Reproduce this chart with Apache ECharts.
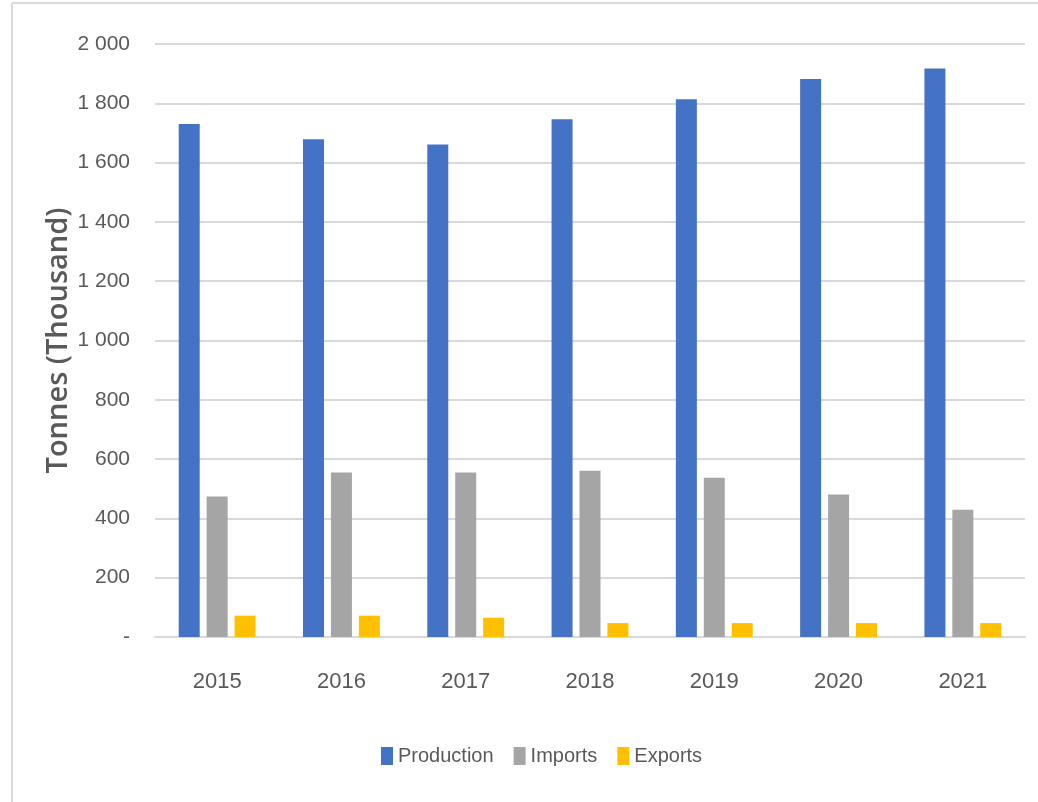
<!DOCTYPE html>
<html>
<head>
<meta charset="utf-8">
<script src="https://cdn.jsdelivr.net/npm/echarts@6/dist/echarts.min.js"></script>
<style>
html,body{margin:0;padding:0;background:#fff;}
#chart{width:1038px;height:802px;}
</style>
</head>
<body>
<div id="chart"></div>
<script>
const years = ['2015','2016','2017','2018','2019','2020','2021'];
const production = [1730, 1679, 1661, 1746, 1814, 1882, 1917];
const imports = [474, 555, 555, 561, 537, 481, 429];
const exports = [72, 72, 65, 47, 47, 47, 47];
const seriesNames = ['Production','Imports','Exports'];
const colors = ['#4472C4','#A5A5A5','#FFC000'];

const labelFont = '"Liberation Sans", Arial, sans-serif';
function fmt(v){
  if (v === 0) return '-';
  const s = String(v);
  return s.length > 3 ? s.slice(0, s.length-3) + ' ' + s.slice(-3) : s;
}

const chart = echarts.init(document.getElementById('chart'), null, {renderer:'canvas'});
const values = [production, imports, exports];
chart.setOption({
  backgroundColor:'#fff',
  animation:false,
  color: colors,
  graphic:[
    {type:'line', shape:{x1:12,y1:3,x2:1038,y2:3}, style:{stroke:'#d9d9d9', lineWidth:2}},
    {type:'line', shape:{x1:12,y1:3,x2:12,y2:802}, style:{stroke:'#d9d9d9', lineWidth:2}}
  ],
  grid:{left:155, right:13, top:44, bottom:165, containLabel:false},
  legend:{
    data: seriesNames,
    top: 741,
    left: 376,
    itemWidth: 12,
    itemHeight: 18,
    itemGap: 20,
    icon: 'rect',
    textStyle:{fontFamily:labelFont, fontSize:20, color:'#595959'}
  },
  xAxis:{
    type:'category',
    data: years,
    axisLine:{lineStyle:{color:'#d9d9d9', width:2}},
    axisTick:{show:false},
    axisLabel:{fontFamily:labelFont, fontSize:22, color:'#595959', margin:34}
  },
  yAxis:{
    type:'value',
    min:0, max:2000, interval:200,
    name:'Tonnes (Thousand)',
    nameLocation:'middle',
    nameGap:82,
    nameMoveOverlap:false,
    nameTextStyle:{fontFamily:'"Open Sans", "DejaVu Sans", sans-serif', fontSize:29, fontWeight:600, color:'#595959'},
    axisLine:{show:false},
    axisTick:{show:false},
    splitLine:{lineStyle:{color:'#d9d9d9', width:2}},
    axisLabel:{fontFamily:labelFont, fontSize:21, color:'#595959', margin:25, formatter: fmt}
  },
  series: seriesNames.map((n,i)=>({
    name:n,
    type:'bar',
    data: values[i],
    barWidth:21,
    barGap:'33%',
    itemStyle:{color:colors[i]}
  }))
});
</script>
</body>
</html>
